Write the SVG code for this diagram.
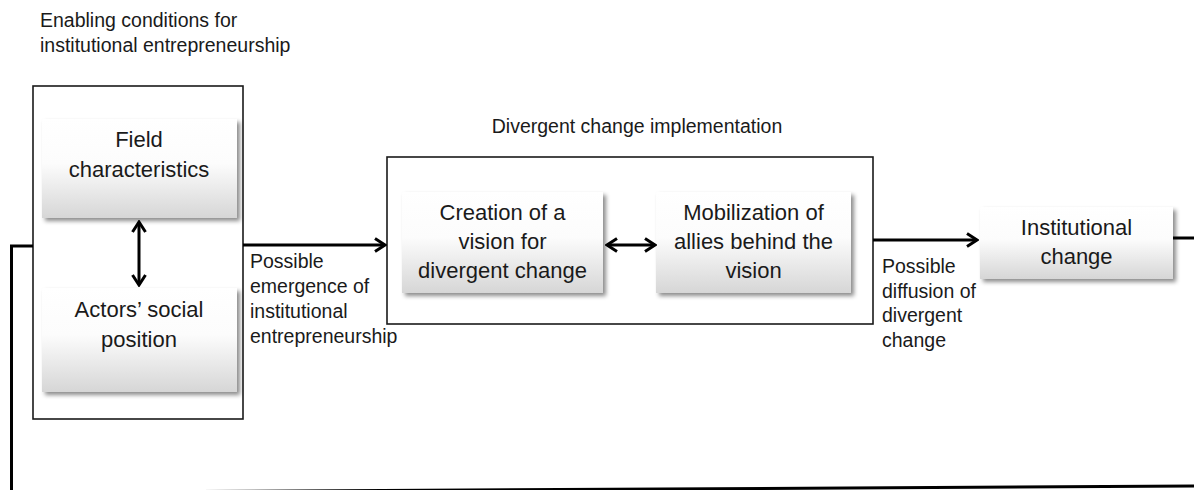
<svg xmlns="http://www.w3.org/2000/svg" width="1194" height="490" viewBox="0 0 1194 490">
  <defs>
    <linearGradient id="nodeFill" x1="0" y1="0" x2="0" y2="1">
      <stop offset="0" stop-color="#ffffff"/>
      <stop offset="0.45" stop-color="#fcfcfc"/>
      <stop offset="1" stop-color="#d6d6d6"/>
    </linearGradient>
    <filter id="shadow" x="-10%" y="-10%" width="125%" height="135%">
      <feDropShadow dx="3" dy="3" stdDeviation="2" flood-color="#000" flood-opacity="0.45"/>
    </filter>
    <marker id="head" viewBox="0 0 14 16" refX="12" refY="8" markerWidth="14" markerHeight="16" markerUnits="userSpaceOnUse" orient="auto-start-reverse">
      <path d="M2,1.5 L12,8 L2,14.5" fill="none" stroke="#000" stroke-width="3" stroke-linejoin="miter"/>
    </marker>
    <style>
      .frame { fill: #fff; stroke: #1a1a1a; stroke-width: 1.6; }
      .node { fill: url(#nodeFill); filter: url(#shadow); }
      .ntext { font-family: "Liberation Sans", Arial, sans-serif; font-size: 22px; fill: #1a1a1a; text-anchor: middle; }
      .small { font-family: "Liberation Sans", Arial, sans-serif; font-size: 19.5px; fill: #1a1a1a; }
      .wire { fill: none; stroke: #000; stroke-width: 3; }
      .arrow { marker-end: url(#head); }
      .both { marker-start: url(#head); marker-end: url(#head); }
    </style>
  </defs>

  <rect width="1194" height="490" fill="#fff"/>

  <!-- enabling conditions -->
  <g id="enabling-conditions">
    <text class="small" x="40" y="27">Enabling conditions for</text>
    <text class="small" x="40" y="52">institutional entrepreneurship</text>
    <rect class="frame" x="33" y="86" width="210" height="333"/>
  </g>

  <g id="field-characteristics">
    <rect class="node" x="42" y="119" width="195" height="99"/>
    <text class="ntext" x="139" y="147">Field</text>
    <text class="ntext" x="139" y="177">characteristics</text>
  </g>

  <g id="actors-social-position">
    <rect class="node" x="42" y="288" width="195" height="104"/>
    <text class="ntext" x="139" y="317">Actors’ social</text>
    <text class="ntext" x="139" y="347">position</text>
  </g>

  <!-- divergent change implementation -->
  <g id="divergent-change-implementation">
    <text class="small" x="637" y="133" text-anchor="middle">Divergent change implementation</text>
    <rect class="frame" x="387" y="157" width="486" height="167"/>
  </g>

  <g id="creation-of-vision">
    <rect class="node" x="402" y="192" width="201" height="101"/>
    <text class="ntext" x="502.5" y="220">Creation of a</text>
    <text class="ntext" x="502.5" y="249">vision for</text>
    <text class="ntext" x="502.5" y="278">divergent change</text>
  </g>

  <g id="mobilization-of-allies">
    <rect class="node" x="656" y="192" width="195" height="101"/>
    <text class="ntext" x="753.5" y="220">Mobilization of</text>
    <text class="ntext" x="753.5" y="249">allies behind the</text>
    <text class="ntext" x="753.5" y="278">vision</text>
  </g>

  <g id="institutional-change">
    <rect class="node" x="980" y="207" width="193" height="72"/>
    <text class="ntext" x="1076.5" y="235">Institutional</text>
    <text class="ntext" x="1076.5" y="264">change</text>
  </g>

  <!-- connectors -->
  <g id="connectors">
    <line class="wire both" x1="139" y1="222" x2="139" y2="285"/>
    <line class="wire both" x1="607" y1="245" x2="655" y2="245"/>
    <line class="wire arrow" x1="243" y1="245" x2="385" y2="245"/>
    <line class="wire arrow" x1="873" y1="240" x2="977" y2="240"/>
    <line class="wire" x1="1173" y1="238" x2="1194" y2="238"/>
    <path class="wire" d="M33,246 H11.5 V490"/>
    <line class="wire" x1="200" y1="491.5" x2="1194" y2="486"/>
  </g>

  <!-- connector labels -->
  <g id="connector-labels">
    <text class="small" x="250" y="268">Possible</text>
    <text class="small" x="250" y="293">emergence of</text>
    <text class="small" x="250" y="318">institutional</text>
    <text class="small" x="250" y="343">entrepreneurship</text>
    <text class="small" x="882" y="273">Possible</text>
    <text class="small" x="882" y="298">diffusion of</text>
    <text class="small" x="882" y="322">divergent</text>
    <text class="small" x="882" y="347">change</text>
  </g>
</svg>
